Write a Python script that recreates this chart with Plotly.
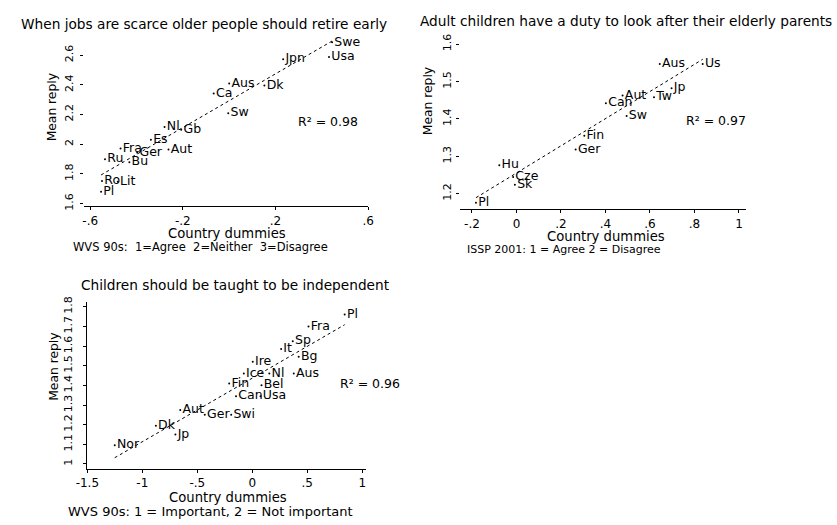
import numpy as np
import plotly.graph_objects as go

# ---- Panel 1: WVS 90s, "When jobs are scarce older people should retire early"
p1_countries = ["Pl", "Ro", "Lit", "Ru", "Bu", "Fra", "Ger", "Aut", "Es", "Nl", "Gb",
                "Ca", "Sw", "Aus", "Dk", "Jpn", "Swe", "Usa"]
p1_dummy = [-0.553, -0.549, -0.481, -0.536, -0.431, -0.469, -0.397, -0.262, -0.338,
            -0.279, -0.207, -0.067, -0.004, 0.000, 0.152, 0.233, 0.444, 0.431]
p1_mean = [1.679, 1.752, 1.746, 1.898, 1.878, 1.971, 1.944, 1.964, 2.030,
           2.116, 2.097, 2.342, 2.209, 2.408, 2.395, 2.573, 2.686, 2.587]
p1_xticks = [-0.6, -0.2, 0.2, 0.6]
p1_xlabels = ["-.6", "-.2", ".2", ".6"]
p1_yticks = [1.6, 1.8, 2.0, 2.2, 2.4, 2.6]
p1_ylabels = ["1.6", "1.8", "2", "2.2", "2.4", "2.6"]

# ---- Panel 2: ISSP 2001, "Adult children have a duty to look after their elderly parents"
p2_countries = ["Pl", "Hu", "Cze", "Sk", "Ger", "Fin", "Can", "Sw", "Aut", "Tw",
                "Jp", "Aus", "Us"]
p2_dummy = [-0.182, -0.077, -0.015, -0.007, 0.266, 0.305, 0.402, 0.495, 0.477,
            0.618, 0.697, 0.644, 0.837]
p2_mean = [1.176, 1.276, 1.245, 1.224, 1.318, 1.355, 1.442, 1.408, 1.463,
           1.458, 1.482, 1.547, 1.547]
p2_xticks = [-0.2, 0, 0.2, 0.4, 0.6, 0.8, 1]
p2_xlabels = ["-.2", "0", ".2", ".4", ".6", ".8", "1"]
p2_yticks = [1.2, 1.3, 1.4, 1.5, 1.6]
p2_ylabels = ["1.2", "1.3", "1.4", "1.5", "1.6"]

# ---- Panel 3: WVS 90s, "Children should be taught to be independent"
p3_countries = ["Nor", "Dk", "Jp", "Aut", "Ger", "Swi", "Fin", "Can", "Usa", "Bel",
                "Ice", "Nl", "Aus", "Ire", "It", "Sp", "Bg", "Fra", "Pl"]
p3_dummy = [-1.251, -0.877, -0.699, -0.655, -0.432, -0.192, -0.210, -0.148, 0.075,
            0.084, -0.077, 0.155, 0.377, 0.004, 0.262, 0.368, 0.422, 0.511, 0.840]
p3_mean = [1.095, 1.195, 1.150, 1.275, 1.250, 1.250, 1.410, 1.345, 1.345, 1.400,
           1.460, 1.460, 1.460, 1.520, 1.585, 1.625, 1.545, 1.700, 1.760]
p3_xticks = [-1.5, -1, -0.5, 0, 0.5, 1]
p3_xlabels = ["-1.5", "-1", "-.5", "0", ".5", "1"]
p3_yticks = [1.0, 1.1, 1.2, 1.3, 1.4, 1.5, 1.6, 1.7, 1.8]
p3_ylabels = ["1", "1.1", "1.2", "1.3", "1.4", "1.5", "1.6", "1.7", "1.8"]

r2_values = ["0.98", "0.97", "0.96"]
titles = ["When jobs are scarce older people should retire early",
          "Adult children have a duty to look after their elderly parents",
          "Children should be taught to be independent"]
notes = ["WVS 90s:  1=Agree  2=Neither  3=Disagree",
         "ISSP 2001: 1 = Agree 2 = Disagree",
         "WVS 90s: 1 = Important, 2 = Not important"]

W, H = 837, 525
FONT = "DejaVu Sans"


def px(x):
    return x / W


def py(y):
    return 1 - y / H


def font(size):
    return dict(family=FONT, size=size, color="black")


fig = go.Figure()

panels = [
    (p1_countries, p1_dummy, p1_mean, "x", "y"),
    (p2_countries, p2_dummy, p2_mean, "x2", "y2"),
    (p3_countries, p3_dummy, p3_mean, "x3", "y3"),
]
for names, xs, ys, xa, ya in panels:
    xs_arr = np.array(xs)
    ys_arr = np.array(ys)
    # least-squares fit line over the observed range of country dummies
    slope, icpt = np.polyfit(xs_arr, ys_arr, 1)
    fx = np.array([xs_arr.min(), xs_arr.max()])
    fig.add_trace(go.Scatter(x=fx, y=slope * fx + icpt, mode="lines",
                             line=dict(color="black", width=1, dash="dot"),
                             xaxis=xa, yaxis=ya, showlegend=False, hoverinfo="skip"))
    fig.add_trace(go.Scatter(x=xs, y=ys, mode="markers+text", text=names,
                             textposition="middle right", textfont=font(12.5),
                             marker=dict(size=2, color="black"),
                             xaxis=xa, yaxis=ya, showlegend=False, cliponaxis=False))


def xaxis(dom, rng, tv, tt, anchor):
    return dict(domain=dom, range=rng, tickvals=tv, ticktext=tt, anchor=anchor,
                showline=True, linecolor="black", linewidth=1, ticks="outside",
                ticklen=3, tickcolor="black", showgrid=False, zeroline=False,
                tickfont=font(12))


def yaxis(dom, rng, tv, tt, anchor, line, standoff):
    return dict(domain=dom, range=rng, tickvals=tv, ticktext=tt, anchor=anchor,
                showline=line, linecolor="black", linewidth=1, ticks="outside",
                ticklen=3, tickcolor="black", showgrid=False, zeroline=False,
                tickangle=-90, tickfont=font(11), ticklabelstandoff=standoff)


fig.update_layout(
    width=W, height=H, margin=dict(l=0, r=0, t=0, b=0),
    plot_bgcolor="white", paper_bgcolor="white",
    xaxis=xaxis([px(74), px(364)], [-0.625, 0.6], p1_xticks, p1_xlabels, "y"),
    yaxis=yaxis([py(205), py(35)], [1.58, 2.706], p1_yticks, p1_ylabels, "x", False, 3),
    xaxis2=xaxis([px(458), px(750)], [-0.253, 1.031], p2_xticks, p2_xlabels, "y2"),
    yaxis2=yaxis([py(208), py(33)], [1.158, 1.618], p2_yticks, p2_ylabels, "x2", False, 1),
    xaxis3=xaxis([px(77), px(362)], [-1.5, 1.036], p3_xticks, p3_xlabels, "y3"),
    yaxis3=yaxis([py(472), py(302)], [0.975, 1.825], p3_yticks, p3_ylabels, "x3", True, 7),
)

ann = []
# panel titles
for t, (cx, cy) in zip(titles, [(196, 19), (627, 16), (228, 285)]):
    ann.append(dict(text=t, x=px(cx), y=py(cy), xref="paper", yref="paper",
                    showarrow=False, xanchor="center", yanchor="middle", font=font(13.7)))
# x-axis titles
for cx, cy in [(220, 232), (607, 236), (221, 501)]:
    ann.append(dict(text="Country dummies", x=px(cx), y=py(cy), xref="paper", yref="paper",
                    showarrow=False, xanchor="center", yanchor="middle", font=font(13.2)))
# survey notes
for t, (lx, cy), fs in zip(notes, [(60, 246), (463, 249), (55, 515)], [11.5, 11, 13]):
    ann.append(dict(text=t, x=px(lx), y=py(cy), xref="paper", yref="paper",
                    showarrow=False, xanchor="left", yanchor="middle", font=font(fs)))
# y-axis titles
for cx, cy in [(41, 104), (425, 98), (43, 368)]:
    ann.append(dict(text="Mean reply", x=px(cx), y=py(cy), xref="paper", yref="paper",
                    showarrow=False, xanchor="center", yanchor="middle", textangle=-90,
                    font=font(12.3)))
# fit statistics
for r2, (xa, ya, xv, yv) in zip(r2_values, [("x", "y", 0.288, 2.156),
                                            ("x2", "y2", 0.754, 1.395),
                                            ("x3", "y3", 0.778, 1.41)]):
    ann.append(dict(text="R² = " + r2, x=xv, y=yv, xref=xa, yref=ya, showarrow=False,
                    xanchor="left", yanchor="middle", font=font(12.5)))

fig.update_layout(annotations=ann)
fig.write_html("out.html")
